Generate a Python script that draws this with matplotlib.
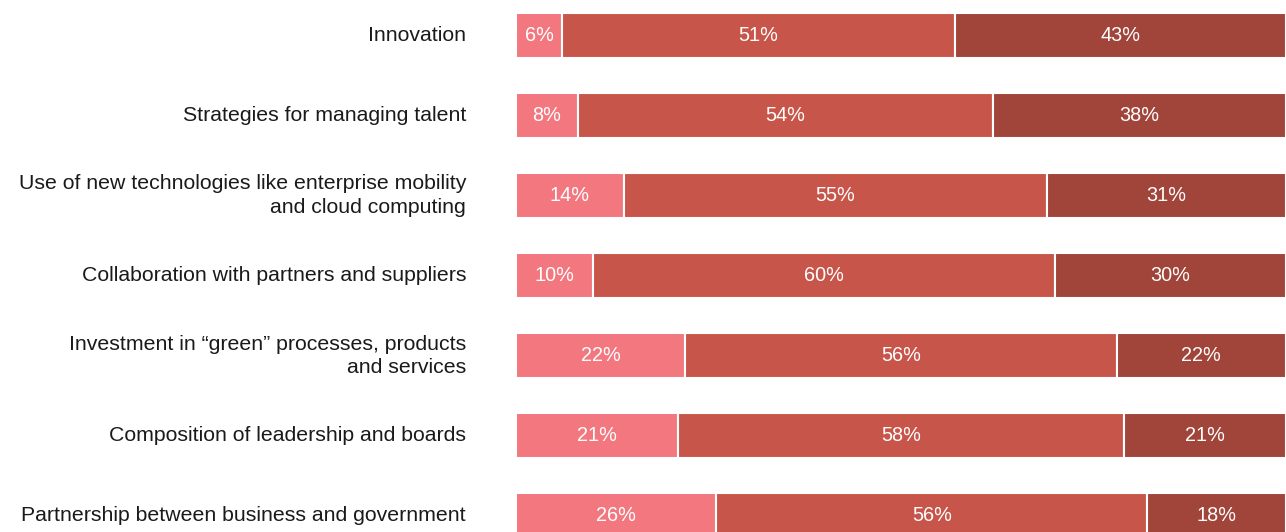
import matplotlib
matplotlib.use("Agg")
import matplotlib.pyplot as plt
import numpy as np

categories = [
    "Innovation",
    "Strategies for managing talent",
    "Use of new technologies like enterprise mobility\nand cloud computing",
    "Collaboration with partners and suppliers",
    "Investment in \u201cgreen\u201d processes, products\nand services",
    "Composition of leadership and boards",
    "Partnership between business and government",
]
low = [6, 8, 14, 10, 22, 21, 26]
mid = [51, 54, 55, 60, 56, 58, 56]
high = [43, 38, 31, 30, 22, 21, 18]

colors = ["#F2777F", "#C8554A", "#A1443A"]

plt.rcParams["font.family"] = ["Liberation Sans", "DejaVu Sans"]

fig = plt.figure(figsize=(12.86, 5.32), dpi=100)
ax = fig.add_axes([516 / 1286, 0, 1 - 516 / 1286, 1])

y = np.arange(len(categories))
left = np.zeros(len(categories))
for vals, col in zip([low, mid, high], colors):
    vals = np.array(vals, dtype=float)
    ax.barh(y, vals, left=left, height=0.5625, color=col,
            edgecolor="white", linewidth=1.5)
    for yi, l, v in zip(y, left, vals):
        ax.text(l + v / 2, yi, f"{int(v)}%", ha="center", va="center",
                color="white", fontsize=14.3)
    left += vals

ax.set_xlim(0, 100)
ax.set_ylim(6.2, -0.443)
ax.axis("off")

for yi, cat in zip(y, categories):
    ax.annotate(cat, xy=(0, yi), xycoords=("axes fraction", "data"),
                xytext=(-50, 0), textcoords="offset pixels",
                ha="right", va="center", fontsize=15.3, color="#1a1a1a",
                multialignment="right", linespacing=1.3)

fig.savefig("out.png", dpi=100)
